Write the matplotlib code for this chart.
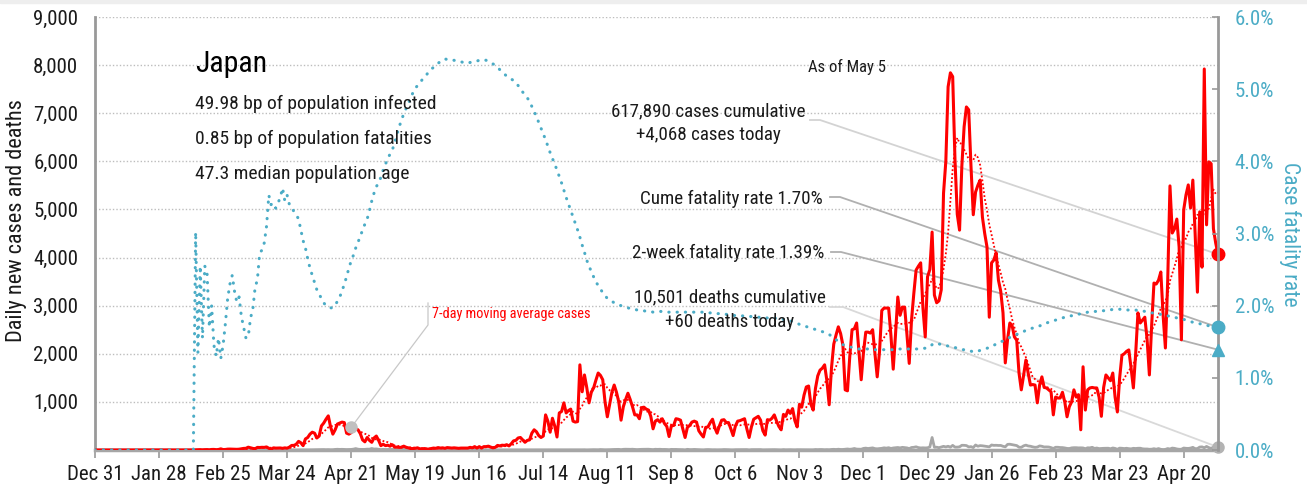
import numpy as np
import pandas as pd
import matplotlib
matplotlib.use("Agg")
import matplotlib.pyplot as plt
from matplotlib.patches import Rectangle

plt.rcParams['font.family'] = ['Roboto Condensed', 'Liberation Sans', 'DejaVu Sans']

START = '2019-12-31'

# daily new cases, by month
cases_dec19 = [0]
cases_jan20 = [0, 0, 0, 0, 0, 0, 0, 0, 0, 0, 0, 0, 0, 0, 1, 0, 0, 0, 0, 0, 0, 0, 0, 1, 1, 0, 2, 1, 3, 0, 1]
cases_feb20 = [1, 0, 0, 0, 0, 0, 0, 0, 0, 0, 0, 1, 3, 5, 7, 3, 7, 8, 4, 11, 12, 6, 11, 24, 9, 11, 18, 19, 17]
cases_mar20 = [15, 14, 17, 26, 33, 35, 59, 47, 33, 26, 54, 52, 56, 54, 64, 36, 14, 44, 39, 40,
               42, 35, 44, 38, 60, 95, 96, 120, 180, 150, 90]
cases_apr20 = [230, 260, 330, 370, 350, 250, 290, 500, 560, 640, 710, 480, 330, 420, 540, 560, 580, 570, 350, 330,
               360, 420, 440, 420, 340, 210, 170, 260, 200, 160]
cases_may20 = [250, 290, 200, 90, 120, 90, 100, 80, 110, 60, 60, 55, 55, 80, 55, 45, 30, 30, 35, 45,
               25, 25, 30, 20, 20, 30, 40, 35, 50, 40, 45]
cases_jun20 = [35, 50, 45, 40, 45, 40, 35, 40, 40, 40, 40, 55, 45, 70, 40, 70, 40, 70, 70, 80,
               60, 45, 55, 95, 85, 100, 95, 110, 85, 130]
cases_jul20 = [190, 200, 250, 260, 210, 160, 200, 210, 350, 420, 380, 300, 260, 290, 730, 600, 370, 660, 500, 270,
               770, 800, 980, 770, 820, 850, 600, 580, 590, 1770, 1210]
cases_aug20 = [1560, 1300, 980, 1200, 1290, 1450, 1600, 1550, 1460, 1000, 690, 950, 1200, 1350, 1200, 1000, 620,
               900, 1050, 1180, 1050, 900, 730, 730, 650, 880, 890, 850, 830, 700, 440]
cases_sep20 = [600, 630, 580, 650, 550, 490, 280, 500, 510, 650, 640, 620, 440, 260, 470, 510, 580, 600, 580, 400,
               330, 270, 470, 480, 570, 640, 460, 350, 500, 620]
cases_oct20 = [630, 570, 570, 440, 300, 500, 600, 610, 630, 650, 440, 260, 480, 640, 670, 700, 620, 400, 310, 630,
               620, 660, 730, 600, 490, 420, 740, 700, 830, 760, 860]
cases_nov20 = [610, 480, 950, 890, 1140, 1310, 1330, 950, 830, 1280, 1540, 1660, 1700, 1770, 1440, 940, 1700,
               2200, 2390, 2560, 2420, 2180, 1250, 1230, 1940, 2500, 2520, 2640, 2060, 1460]
cases_dec20 = [2030, 2450, 2450, 2430, 2500, 2020, 1520, 2040, 2900, 2950, 2950, 2950, 2380, 1680, 2400, 3180,
               2800, 2970, 2970, 2400, 1800, 2700, 3250, 3740, 3820, 3890, 2950, 2350, 3600, 3750, 4530]
cases_jan21 = [3220, 3060, 3100, 3330, 5340, 6000, 7550, 7840, 7760, 6030, 4900, 4570, 5900, 6720, 7130, 7070,
               5900, 4890, 5360, 5500, 5610, 4840, 4500, 4220, 2760, 3890, 3950, 4100, 3530, 3300, 2850]
cases_feb21 = [1810, 2300, 2640, 2580, 2350, 2280, 1600, 1250, 1550, 1870, 1600, 1350, 1360, 1350, 980, 1350,
               1520, 1300, 1290, 1250, 1210, 730, 1100, 1080, 1080, 1200, 1000, 690]
cases_mar21 = [900, 1000, 1250, 1100, 1150, 420, 1730, 830, 1250, 1290, 1300, 1290, 1290, 1100, 700, 1300, 1560,
               1500, 1440, 1600, 1100, 790, 1500, 1970, 2000, 2050, 2080, 1700, 1290, 2000, 2850]
cases_apr21 = [2640, 2700, 2760, 2300, 1560, 2600, 3470, 3450, 3530, 3700, 2800, 2120, 3500, 5490, 4510, 4600,
               4800, 4220, 2290, 4990, 5300, 5510, 5030, 5610, 4500, 3280, 4950, 3800, 7920, 4680]
cases_may21 = [5990, 5950, 4600, 4300, 4068]

# daily deaths, by month
deaths_dec19 = [0]
deaths_jan20 = [0, 0, 0, 0, 0, 0, 0, 0, 0, 0, 0, 0, 0, 0, 0, 0, 0, 0, 0, 0, 0, 0, 0, 0, 0, 0, 0, 0, 0, 0, 0]
deaths_feb20 = [0, 0, 0, 0, 0, 0, 0, 0, 0, 0, 0, 0, 1, 0, 0, 0, 0, 0, 0, 2, 1, 0, 1, 0, 1, 1, 1, 0, 2]
deaths_mar20 = [0, 1, 0, 1, 0, 1, 1, 2, 1, 2, 1, 2, 2, 1, 1, 0, 1, 2, 1, 1, 1, 1, 2, 0, 1, 1, 3, 1, 2, 3, 4]
deaths_apr20 = [3, 2, 3, 4, 5, 4, 6, 7, 9, 6, 8, 5, 6, 12, 15, 12, 14, 12, 9, 11, 12, 18, 29, 17, 12, 13, 13, 18,
                17, 31]
deaths_may20 = [20, 22, 15, 8, 14, 11, 11, 17, 12, 19, 10, 16, 15, 11, 8, 9, 7, 6, 5, 11, 4, 4, 3, 6, 7, 4, 5, 4,
                2, 3, 3]
deaths_jun20 = [2, 4, 1, 3, 2, 2, 2, 1, 2, 2, 3, 1, 1, 0, 1, 1, 1, 1, 1, 0, 0, 1, 0, 0, 1, 2, 1, 0, 1, 1]
deaths_jul20 = [0, 1, 0, 1, 1, 2, 0, 1, 1, 0, 1, 0, 1, 1, 0, 1, 1, 0, 0, 0, 1, 1, 0, 2, 1, 2, 2, 0, 3, 2, 3]
deaths_aug20 = [4, 1, 3, 5, 6, 5, 4, 9, 6, 4, 4, 6, 9, 11, 11, 13, 7, 14, 16, 14, 14, 16, 12, 8, 12, 14, 15, 15,
                16, 11, 8]
deaths_sep20 = [15, 13, 15, 11, 12, 10, 5, 13, 11, 12, 9, 9, 7, 2, 14, 8, 8, 12, 8, 6, 5, 2, 7, 9, 6, 4, 5, 3, 4, 5]
deaths_oct20 = [9, 8, 6, 3, 3, 6, 6, 5, 8, 7, 8, 1, 7, 7, 6, 5, 8, 3, 4, 4, 6, 5, 7, 6, 3, 2, 8, 4, 6, 6, 4]
deaths_nov20 = [3, 6, 6, 7, 7, 5, 4, 3, 4, 10, 7, 10, 9, 5, 8, 5, 11, 14, 10, 16, 11, 11, 17, 21, 15, 20, 31, 19,
                18, 16]
deaths_dec20 = [33, 39, 31, 38, 44, 29, 25, 30, 35, 45, 39, 48, 32, 42, 46, 52, 44, 55, 50, 44, 29, 52, 56, 66,
                50, 43, 46, 43, 46, 63, 260]
deaths_jan21 = [56, 58, 48, 62, 76, 64, 78, 59, 96, 60, 60, 66, 98, 97, 92, 64, 70, 50, 104, 78, 91, 87, 80, 73,
                66, 104, 96, 98, 94, 95, 77]
deaths_feb21 = [66, 117, 120, 111, 102, 92, 58, 56, 86, 101, 84, 78, 65, 56, 61, 85, 77, 63, 64, 62, 50, 32, 57,
                57, 51, 50, 43, 33]
deaths_mar21 = [31, 44, 48, 48, 44, 45, 43, 27, 46, 44, 56, 33, 41, 29, 33, 35, 35, 37, 26, 42, 33, 15, 39, 36,
                30, 36, 28, 24, 35, 31, 36]
deaths_apr21 = [37, 25, 21, 21, 15, 17, 27, 16, 30, 14, 9, 13, 30, 21, 40, 34, 22, 15, 16, 41, 35, 33, 40, 55, 28,
                30, 61, 65, 47, 74]
deaths_may21 = [49, 34, 60, 55, 60]

# cumulative case fatality rate (%), by month
cfr_dec19 = [0]
cfr_jan20 = [0, 0, 0, 0, 0, 0, 0, 0, 0, 0, 0, 0, 0, 0, 0, 0, 0, 0, 0, 0, 0, 0, 0, 0, 0, 0, 0, 0, 0, 0, 0]
cfr_feb20 = [0, 0, 0, 0, 0, 0, 0, 0, 0, 0, 0, 0, 3.02, 1.35, 2.55, 1.55, 2.55, 2.45, 1.7, 2.0, 1.45, 1.3, 1.55,
             1.27, 1.45, 1.75, 2.1, 2.3, 2.42]
cfr_mar20 = [2.2, 2.05, 2.12, 1.85, 1.7, 1.55, 1.57, 1.83, 1.95, 2.25, 2.36, 2.73, 2.77, 2.87, 3.1, 3.53, 3.4,
             3.42, 3.35, 3.42, 3.5, 3.63, 3.45, 3.53, 3.4, 3.37, 3.3, 3.26, 3.2, 3.05, 2.9]
cfr_apr20 = [2.8, 2.65, 2.52, 2.42, 2.32, 2.22, 2.16, 2.1, 2.04, 2.0, 1.98, 1.97, 1.97, 2.01, 2.06, 2.12, 2.2,
             2.3, 2.4, 2.52, 2.62, 2.7, 2.8, 2.88, 2.96, 3.05, 3.13, 3.2, 3.32, 3.45]
cfr_may20 = [3.56, 3.65, 3.7, 3.78, 3.88, 3.96, 4.04, 4.1, 4.16, 4.25, 4.37, 4.48, 4.57, 4.66, 4.73, 4.8, 4.88,
             4.95, 5.01, 5.05, 5.08, 5.13, 5.17, 5.2, 5.25, 5.28, 5.3, 5.33, 5.36, 5.38, 5.4]
cfr_jun20 = [5.42, 5.41, 5.41, 5.4, 5.4, 5.39, 5.38, 5.38, 5.37, 5.37, 5.36, 5.37, 5.38, 5.38, 5.39, 5.4, 5.4,
             5.41, 5.4, 5.39, 5.37, 5.35, 5.33, 5.3, 5.27, 5.24, 5.21, 5.18, 5.16, 5.14]
cfr_jul20 = [5.12, 5.09, 5.05, 5.0, 4.96, 4.92, 4.88, 4.83, 4.76, 4.69, 4.62, 4.54, 4.46, 4.38, 4.3, 4.21, 4.12,
             4.04, 3.96, 3.88, 3.79, 3.7, 3.6, 3.5, 3.41, 3.32, 3.23, 3.14, 3.05, 2.95, 2.84]
cfr_aug20 = [2.74, 2.63, 2.55, 2.47, 2.4, 2.33, 2.28, 2.23, 2.18, 2.14, 2.1, 2.08, 2.06, 2.04, 2.02, 2.01, 2.0,
             1.99, 1.98, 1.97, 1.96, 1.95, 1.95, 1.94, 1.94, 1.93, 1.93, 1.92, 1.92, 1.92, 1.91]
cfr_sep20 = [1.92, 1.92, 1.92, 1.92, 1.91, 1.91, 1.91, 1.91, 1.91, 1.91, 1.91, 1.91, 1.91, 1.91, 1.91, 1.91, 1.91,
             1.91, 1.91, 1.91, 1.91, 1.91, 1.91, 1.9, 1.9, 1.9, 1.9, 1.89, 1.89, 1.89]
cfr_oct20 = [1.89, 1.88, 1.88, 1.87, 1.87, 1.86, 1.86, 1.86, 1.86, 1.85, 1.85, 1.85, 1.85, 1.84, 1.84, 1.84, 1.84,
             1.83, 1.83, 1.83, 1.83, 1.83, 1.83, 1.82, 1.82, 1.81, 1.81, 1.8, 1.8, 1.79, 1.78]
cfr_nov20 = [1.77, 1.76, 1.74, 1.73, 1.72, 1.71, 1.7, 1.69, 1.68, 1.67, 1.66, 1.65, 1.64, 1.63, 1.62, 1.6, 1.58,
             1.56, 1.53, 1.5, 1.48, 1.46, 1.45, 1.44, 1.43, 1.42, 1.41, 1.41, 1.4, 1.4]
cfr_dec20 = [1.4, 1.4, 1.4, 1.4, 1.4, 1.39, 1.39, 1.39, 1.39, 1.39, 1.39, 1.39, 1.39, 1.39, 1.4, 1.4, 1.4, 1.4,
             1.4, 1.4, 1.4, 1.4, 1.4, 1.4, 1.4, 1.4, 1.41, 1.41, 1.42, 1.43, 1.46]
cfr_jan21 = [1.48, 1.47, 1.47, 1.46, 1.46, 1.45, 1.44, 1.43, 1.42, 1.42, 1.41, 1.4, 1.39, 1.39, 1.38, 1.37, 1.37,
             1.36, 1.36, 1.37, 1.38, 1.39, 1.4, 1.41, 1.42, 1.44, 1.45, 1.47, 1.48, 1.5, 1.51]
cfr_feb21 = [1.53, 1.55, 1.56, 1.58, 1.59, 1.6, 1.62, 1.63, 1.64, 1.66, 1.67, 1.68, 1.69, 1.7, 1.71, 1.72, 1.73,
             1.74, 1.76, 1.77, 1.78, 1.79, 1.8, 1.81, 1.82, 1.83, 1.84, 1.85]
cfr_mar21 = [1.86, 1.86, 1.87, 1.88, 1.88, 1.89, 1.9, 1.9, 1.91, 1.91, 1.92, 1.92, 1.92, 1.93, 1.93, 1.93, 1.94,
             1.94, 1.94, 1.95, 1.95, 1.95, 1.95, 1.95, 1.95, 1.94, 1.94, 1.94, 1.94, 1.94, 1.93]
cfr_apr21 = [1.93, 1.93, 1.92, 1.92, 1.91, 1.9, 1.9, 1.89, 1.88, 1.88, 1.87, 1.86, 1.86, 1.85, 1.84, 1.84, 1.83,
             1.82, 1.81, 1.81, 1.8, 1.79, 1.78, 1.77, 1.76, 1.76, 1.75, 1.74, 1.74, 1.73]
cfr_may21 = [1.72, 1.72, 1.71, 1.71, 1.70]

two_week_cfr = 1.39
total_cases = 617890
total_deaths = 10501
country = 'Japan'
stats = ['49.98 bp of population infected', '0.85 bp of population fatalities', '47.3 median population age']

cases = np.array(cases_dec19 + cases_jan20 + cases_feb20 + cases_mar20 + cases_apr20 + cases_may20 + cases_jun20
                 + cases_jul20 + cases_aug20 + cases_sep20 + cases_oct20 + cases_nov20 + cases_dec20
                 + cases_jan21 + cases_feb21 + cases_mar21 + cases_apr21 + cases_may21, dtype=float)
deaths = np.array(deaths_dec19 + deaths_jan20 + deaths_feb20 + deaths_mar20 + deaths_apr20 + deaths_may20
                  + deaths_jun20 + deaths_jul20 + deaths_aug20 + deaths_sep20 + deaths_oct20 + deaths_nov20
                  + deaths_dec20 + deaths_jan21 + deaths_feb21 + deaths_mar21 + deaths_apr21 + deaths_may21,
                  dtype=float)
cfr = np.array(cfr_dec19 + cfr_jan20 + cfr_feb20 + cfr_mar20 + cfr_apr20 + cfr_may20 + cfr_jun20 + cfr_jul20
               + cfr_aug20 + cfr_sep20 + cfr_oct20 + cfr_nov20 + cfr_dec20 + cfr_jan21 + cfr_feb21 + cfr_mar21
               + cfr_apr21 + cfr_may21) / 100.0

if not (len(cases) == len(deaths) == len(cfr)):
    raise SystemExit(f"length mismatch {len(cases)} {len(deaths)} {len(cfr)}")

n = len(cases)
days = np.arange(n)
dates = pd.date_range(START, periods=n)
ma7 = pd.Series(cases).rolling(7, min_periods=1).mean().values
last = n - 1

RED = '#ff0000'
TEAL = '#4bacc6'
GRAY = '#a6a6a6'
TXT = '#1a1a1a'

# pixel layout of the reference
W, H = 1307, 491
L, R, T, B = 95, 1218, 17, 450
YMAX = 9000


def fx(x):
    return x / W


def fy(y):
    return 1 - y / H


def dx(x):
    return (x - L) / (R - L) * last


def dy(y):
    return (B - y) / (B - T) * YMAX


fig = plt.figure(figsize=(W / 100, H / 100), dpi=100)
fig.patches.append(Rectangle((0, fy(3)), 1, 3 / H, transform=fig.transFigure, color='#eeeeee', zorder=0))
ax = fig.add_axes([fx(L), fy(B), (R - L) / W, (B - T) / H])
ax2 = ax.twinx()

ax.set_xlim(0, last)
ax.set_ylim(0, YMAX)
ax2.set_ylim(0, 0.06)

ax.yaxis.grid(True, linestyle=(0, (1, 1.5)), color='#bdbdbd', lw=1)
ax.set_axisbelow(True)

# connectors from the labels to the latest values
ax.plot([dx(810), dx(820), last], [dy(120), dy(120), cases[-1]], color='#d3d3d3', lw=1.3, zorder=1)
ax.plot([dx(830), dx(840), last], [dy(197), dy(197), cfr[-1] * YMAX / 0.06], color='#b0b0b0', lw=1.3, zorder=1)
ax.plot([dx(831), dx(841), last], [dy(252), dy(252), two_week_cfr / 100 * YMAX / 0.06], color='#b0b0b0', lw=1.3,
        zorder=1)
ax.plot([dx(830), dx(843), last], [dy(307), dy(307), deaths[-1]], color='#d9d9d9', lw=1.3, zorder=1)

ax.plot(days, deaths, color=GRAY, lw=2, zorder=2)
ax.plot(days, cases, color=RED, lw=2.2, zorder=3, solid_joinstyle='round')
ax.plot(days, ma7, color=RED, lw=1.3, linestyle=(0, (1, 1.2)), zorder=3)

ax.plot([last], [cases[-1]], 'o', color=RED, ms=9, zorder=6, clip_on=False)
ax.plot([last], [deaths[-1]], 'o', color='#b3b3b3', ms=8, zorder=6, clip_on=False)

ax2.plot(days, cfr, color=TEAL, lw=2.2, linestyle=(0, (0.1, 2.6)), dash_capstyle='round', zorder=4)
ax2.plot([last], [cfr[-1]], 'o', color=TEAL, ms=9, zorder=6, clip_on=False)
ax2.plot([last], [two_week_cfr / 100], '^', color=TEAL, ms=9, zorder=6, clip_on=False)

# moving-average callout
ma_day = 112
ax.plot([ma_day], [ma7[ma_day]], 'o', color='#c0c0c0', ms=8, zorder=5)
ax.plot([dx(428), dx(428), ma_day], [dy(303), dy(325), ma7[ma_day]], color='#c8c8c8', lw=0.9, zorder=4)
ax.text(dx(432), dy(318), '7-day moving average cases', color=RED, fontsize=10.3, va='baseline', ha='left')

# axes styling
for a in (ax, ax2):
    a.spines['top'].set_visible(False)
ax.spines['right'].set_visible(False)
ax.spines['left'].set_color('#999999')
ax.spines['left'].set_linewidth(2)
ax.spines['bottom'].set_color('#a6a6a6')
ax.spines['bottom'].set_linewidth(2.5)
ax2.spines['left'].set_visible(False)
ax2.spines['bottom'].set_visible(False)
ax2.spines['right'].set_color('#999999')
ax2.spines['right'].set_linewidth(2)

tick_days = np.arange(0, n, 28)
ax.set_xticks(tick_days)
ax.set_xticklabels([f"{dates[i]:%b} {dates[i].day}" for i in tick_days])
ax.tick_params(axis='x', length=6, width=1.2, color='#999999', labelsize=15, labelcolor=TXT, pad=5)

ax.set_yticks(np.arange(1000, YMAX + 1, 1000))
ax.set_yticklabels([f"{v:,}" for v in range(1000, YMAX + 1, 1000)])
ax.tick_params(axis='y', length=0, labelsize=15, labelcolor=TXT, pad=12)

ax2.set_yticks(np.arange(0, 0.0601, 0.01))
ax2.set_yticklabels([f"{v:.1f}%" for v in np.arange(0, 6.01, 1.0)])
ax2.tick_params(axis='y', direction='in', length=4, width=1.2, color='#999999', labelsize=15, labelcolor=TEAL,
                pad=12)

fig.text(fx(17), fy(221), 'Daily new cases and deaths', rotation=90, fontsize=16, color=TXT,
         ha='center', va='center')
fig.text(fx(1290), fy(234), 'Case fatality rate', rotation=270, fontsize=15.5, color=TEAL, ha='center',
         va='center')

# country block
fig.text(fx(195), fy(72), country, fontsize=21.5, color='#000000', va='baseline')
for i, s in enumerate(stats):
    fig.text(fx(195), fy(109 + 35 * i), s, fontsize=14, color=TXT, va='baseline')

fig.text(fx(847), fy(72), 'As of May 5', fontsize=12, color=TXT, ha='center', va='baseline')
fig.text(fx(708), fy(116), f"{total_cases:,} cases cumulative", fontsize=13.7, color=TXT, ha='center',
         va='baseline')
fig.text(fx(708), fy(140), f"+{int(cases[-1]):,} cases today", fontsize=13.7, color=TXT, ha='center',
         va='baseline')
fig.text(fx(823), fy(204), f"Cume fatality rate {cfr[-1] * 100:.2f}%", fontsize=13.7, color=TXT, ha='right',
         va='baseline')
fig.text(fx(824), fy(258), f"2-week fatality rate {two_week_cfr:.2f}%", fontsize=13.7, color=TXT, ha='right',
         va='baseline')
fig.text(fx(730), fy(302), f"{total_deaths:,} deaths cumulative", fontsize=13.7, color=TXT, ha='center',
         va='baseline')
fig.text(fx(730), fy(327), f"+{int(deaths[-1])} deaths today", fontsize=13.7, color=TXT, ha='center',
         va='baseline')

fig.savefig('out.png', dpi=100)
